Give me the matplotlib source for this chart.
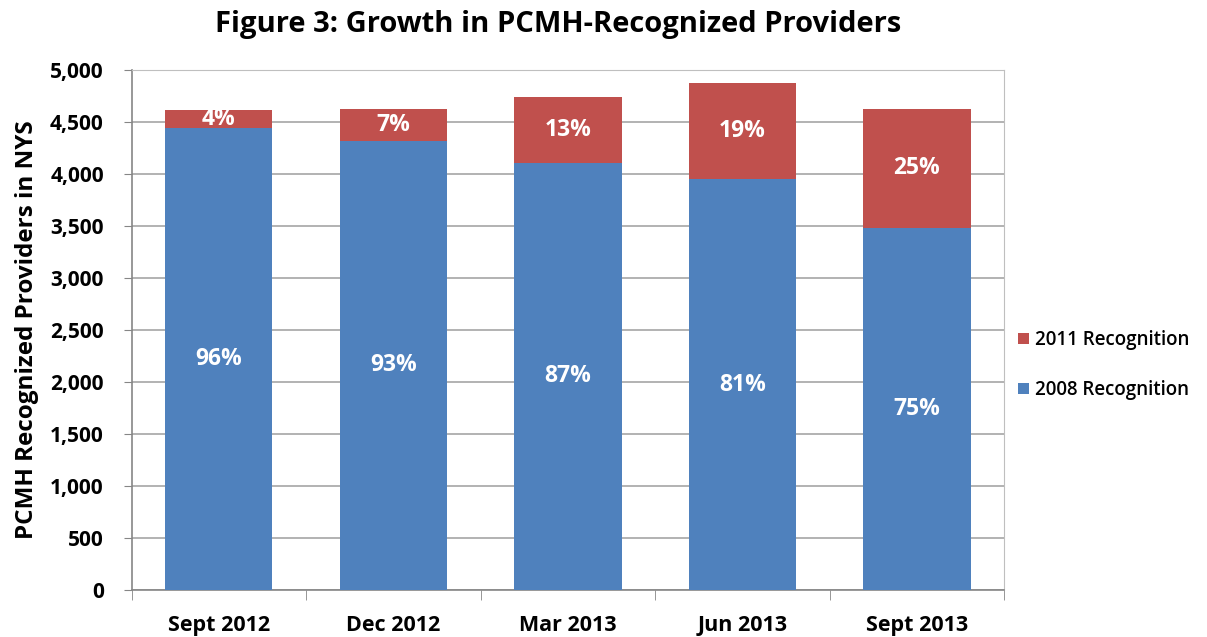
import matplotlib
matplotlib.use("Agg")
import matplotlib.pyplot as plt
from matplotlib import font_manager
import numpy as np

categories = ["Sept 2012", "Dec 2012", "Mar 2013", "Jun 2013", "Sept 2013"]
rec_2008 = [4442, 4317, 4106, 3949, 3485]
rec_2011 = [173, 312, 631, 926, 1144]
pct_2008 = ["96%", "93%", "87%", "81%", "75%"]
pct_2011 = ["4%", "7%", "13%", "19%", "25%"]
yticks = [0, 500, 1000, 1500, 2000, 2500, 3000, 3500, 4000, 4500, 5000]

avail = {f.name for f in font_manager.fontManager.ttflist}
fam = "Liberation Sans Narrow" if "Liberation Sans Narrow" in avail else "Open Sans"
plt.rcParams['font.family'] = [fam, 'DejaVu Sans']

blue = "#4F81BD"
red = "#C0504D"

fig = plt.figure(figsize=(12.07, 6.37), dpi=100)
ax = fig.add_axes([0.109, 0.074, 0.723, 0.816])

x = np.arange(len(categories))
w = 0.615
b1 = ax.bar(x, rec_2008, w, color=blue, label="2008 Recognition", zorder=3)
b2 = ax.bar(x, rec_2011, w, bottom=rec_2008, color=red, label="2011 Recognition", zorder=3)

for i in range(len(categories)):
    ax.text(x[i], rec_2008[i] / 2, pct_2008[i], ha="center", va="center",
            color="white", fontsize=16.5, fontweight="bold", zorder=4)
    ax.text(x[i], rec_2008[i] + rec_2011[i] / 2, pct_2011[i], ha="center", va="center",
            color="white", fontsize=16.5, fontweight="bold", zorder=4)

ax.set_xlim(-0.5, len(categories) - 0.5)
ax.set_ylim(0, 5000)
ax.set_yticks(yticks)
ax.set_yticklabels([f"{v:,}" for v in yticks], fontsize=15, fontweight="bold")
ax.yaxis.grid(True, color="#A6A6A6", linewidth=1.2, zorder=0)
ax.set_axisbelow(True)

ax.set_xticks(x)
ax.set_xticklabels(categories, fontsize=15.5, fontweight="bold")
ax.tick_params(axis="x", length=0, pad=18)
ax.set_xticks(np.arange(-0.5, len(categories), 1), minor=True)
ax.tick_params(axis="x", which="minor", length=7, color="#868686")
ax.tick_params(axis="y", length=6, color="#868686", direction="out", pad=14)

for s in ["top", "right"]:
    ax.spines[s].set_color("#BFBFBF")
for s in ["left", "bottom"]:
    ax.spines[s].set_color("#868686")
    ax.spines[s].set_linewidth(1.2)

ax.set_ylabel("PCMH Recognized Providers in NYS", fontsize=17.5, fontweight="bold", labelpad=8)
fig.suptitle("Figure 3: Growth in PCMH-Recognized Providers", fontsize=21,
             fontweight="bold", x=0.462, y=0.985)

handles = [b2, b1]
ax.legend(handles, ["2011 Recognition", "2008 Recognition"], loc="center left",
          bbox_to_anchor=(0.997, 0.433), frameon=False,
          handlelength=0.55, handleheight=0.55, labelspacing=1.6, handletextpad=0.35,
          prop={"weight": "semibold", "size": 13.5})

fig.savefig("out.png", dpi=100)
